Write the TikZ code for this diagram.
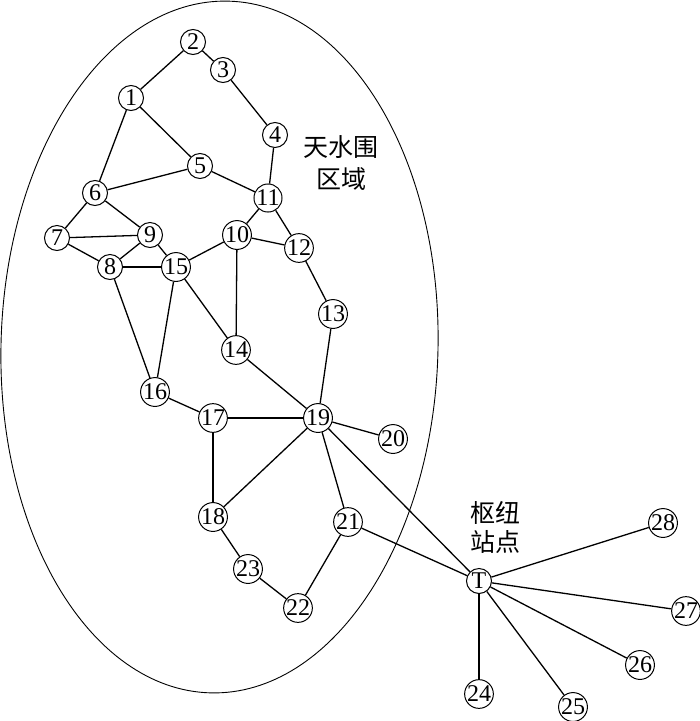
\documentclass[tikz,border=0pt]{standalone}
\usepackage{fontspec}
\setmainfont{Liberation Serif}
\newfontfamily\cjk{Noto Sans CJK SC}
\begin{document}
\begin{tikzpicture}[x=1pt,y=-1pt,
  stn/.style={circle,draw,line width=1pt,minimum size=25pt,inner sep=0pt,fill=white,font=\fontsize{24}{24}\selectfont},
  link/.style={line width=1.3pt},
  lbl/.style={align=center,font=\cjk\fontsize{25}{32}\selectfont}]
\useasboundingbox (0,0) rectangle (700,721);
\draw[line width=0.9pt,rotate around={-1.5:(219.5,347)}] (219.5,347) ellipse [x radius=218.5, y radius=346];
\node[stn] (n1) at (131,98) {1};
\node[stn] (n2) at (193,42) {2};
\node[stn] (n3) at (223,70) {3};
\node[stn] (n4) at (275,135) {4};
\node[stn] (n5) at (200,166) {5};
\node[stn] (n6) at (95,193) {6};
\node[stn] (n7) at (57,238) {7};
\node[stn] (n8) at (110,267) {8};
\node[stn] (n9) at (150,235) {9};
\node[stn] (n10) at (237,235) {10};
\node[stn] (n11) at (268,198) {11};
\node[stn] (n12) at (299,248) {12};
\node[stn] (n13) at (333,314) {13};
\node[stn] (n14) at (236,350) {14};
\node[stn] (n15) at (176,267) {15};
\node[stn] (n16) at (155,392) {16};
\node[stn] (n17) at (213,418) {17};
\node[stn] (n18) at (213,517) {18};
\node[stn] (n19) at (318,418) {19};
\node[stn] (n20) at (393,439) {20};
\node[stn] (n21) at (348,522) {21};
\node[stn] (n22) at (298,608) {22};
\node[stn] (n23) at (248,569) {23};
\node[stn] (T) at (479,581) {T};
\node[stn] (n24) at (479,694) {24};
\node[stn] (n25) at (573,707) {25};
\node[stn] (n26) at (640,665) {26};
\node[stn] (n27) at (686,611) {27};
\node[stn] (n28) at (663,523) {28};
\node[lbl] (la) at (341,163) {天水围\\区域};
\node[lbl,font=\cjk\fontsize{25}{29}\selectfont] (lb) at (495,527) {枢纽\\站点};
\foreach \a/\b in {n1/n2,n2/n3,n3/n4,n4/n11,n1/n5,n1/n6,n5/n6,n5/n11,n6/n7,n6/n9,n7/n9,n7/n8,n8/n9,n8/n15,n9/n15,n8/n16,n15/n16,n15/n10,n15/n14,n10/n11,n10/n12,n11/n12,n10/n14,n12/n13,n13/n19,n14/n19,n16/n17,n17/n19,n17/n18,n18/n19,n19/n20,n19/n21,n19/T,n21/T,n18/n23,n23/n22,n22/n21,T/n24,T/n25,T/n26,T/n27,T/n28}
  \draw[link] (\a) -- (\b);
\end{tikzpicture}
\end{document}
